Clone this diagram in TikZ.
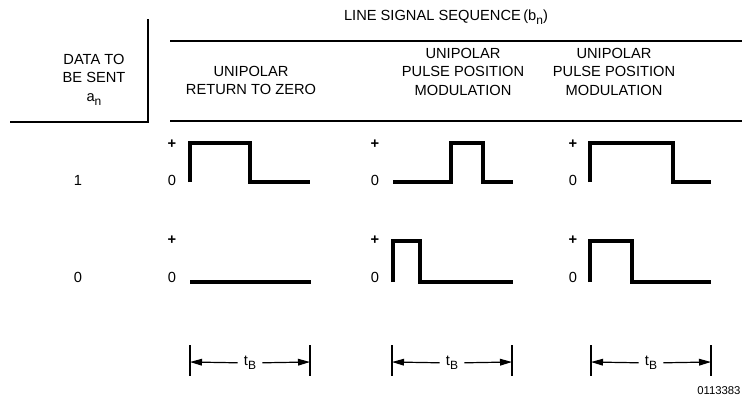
\documentclass[tikz,border=0pt]{standalone}
\usepackage{fontspec}
\setmainfont{Liberation Sans}
\usetikzlibrary{arrows.meta}
\newcommand\lowsub[1]{\raisebox{-0.55ex}{\fontsize{9}{9}\selectfont #1}}
\begin{document}
\begin{tikzpicture}[x=0.75pt,y=-0.75pt,
  txt/.style={font=\fontsize{11}{13.9}\selectfont, inner sep=0pt, align=center},
  rule/.style={line width=1.6pt},
  wave/.style={line width=3pt, line cap=butt, line join=miter},
  tick/.style={line width=0.9pt},
  dim/.style={line width=0.9pt, -{Triangle[length=9pt,width=5pt]}},
  lvl/.style={font=\fontsize{11}{11}\selectfont, inner sep=0pt},
  tb/.style={font=\fontsize{11}{11}\selectfont, inner ysep=0pt, inner xsep=4.5pt}]
\useasboundingbox (0,0) rectangle (742,400);

% header texts
\node[txt] (title) at (446,17) {LINE SIGNAL SEQUENCE\,(b\lowsub{n})};
\node[txt] (data) at (94,80) {DATA TO\\BE SENT\\a\lowsub{n}};
\node[txt] (h1) at (251,80.5) {UNIPOLAR\\RETURN TO ZERO};
\node[txt] (h2) at (463,71.5) {UNIPOLAR\\PULSE POSITION\\MODULATION};
\node[txt] (h3) at (614,71.5) {UNIPOLAR\\PULSE POSITION\\MODULATION};

% header rules
\draw[rule] (148,19) -- (148,122) -- (10,122);
\draw[rule] (170,41) -- (742,41);
\draw[rule] (170,121) -- (742,121);

% data values
\node[lvl] (one) at (78,180) {1};
\node[lvl] (zero) at (78,277) {0};

% level labels
\foreach \c/\x in {1/172,2/375,3/573}{
  \node[lvl] (p\c a) at (\x,144) {\textbf{+}};
  \node[lvl] (z\c a) at (\x,180) {0};
  \node[lvl] (p\c b) at (\x,240) {\textbf{+}};
  \node[lvl] (z\c b) at (\x,277) {0};
}

% waveforms, data 1
\draw[wave] (190,182) -- (190,143) -- (250,143) -- (250,182) -- (310,182);
\draw[wave] (393,182) -- (451,182) -- (451,143) -- (483,143) -- (483,182) -- (513,182);
\draw[wave] (590,182) -- (590,143) -- (673,143) -- (673,182) -- (711,182);
% waveforms, data 0
\draw[wave] (190,282) -- (311,282);
\draw[wave] (393,282) -- (393,241) -- (420,241) -- (420,282) -- (513,282);
\draw[wave] (590,282) -- (590,241) -- (632,241) -- (632,282) -- (711,282);

% bit period dimensions
\foreach \c/\l/\m/\r in {1/190/250/310,2/392/452/512,3/591/651/711}{
  \draw[tick] (\l,345) -- (\l,376);
  \draw[tick] (\r,345) -- (\r,376);
  \coordinate (dl\c) at (\l,362);
  \coordinate (dr\c) at (\r,362);
  \node[tb] (tb\c) at (\m,363) {t\lowsub{B}};
  \draw[dim] (tb\c) -- (dl\c);
  \draw[dim] (tb\c) -- (dr\c);
}

\node[font=\fontsize{8.5}{8.5}\selectfont, inner sep=0pt, anchor=west] (fig) at (697,391) {0113383};
\end{tikzpicture}
\end{document}
